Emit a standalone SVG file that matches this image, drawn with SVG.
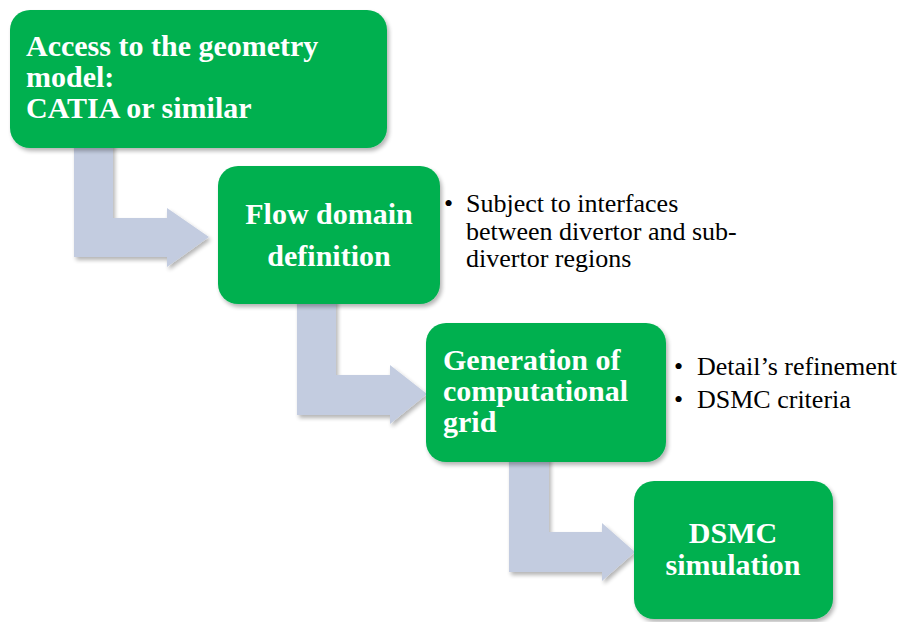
<svg xmlns="http://www.w3.org/2000/svg" width="903" height="622" viewBox="0 0 903 622">
<defs>
<filter id="sh" x="-10%" y="-10%" width="130%" height="130%">
<feGaussianBlur in="SourceAlpha" stdDeviation="2"/>
<feOffset dx="2" dy="3" result="b"/>
<feComponentTransfer><feFuncA type="linear" slope="0.3"/></feComponentTransfer>
<feMerge><feMergeNode/><feMergeNode in="SourceGraphic"/></feMerge>
</filter>
</defs>
<style>
.box{fill:#00B050;filter:url(#sh)}
.arr{fill:#C3CCE0;filter:url(#sh)}
.bt{font-family:"Liberation Serif","Times New Roman",serif;font-weight:bold;font-size:30px;fill:#FFFFFF}
.c{text-anchor:middle}
.nt{font-family:"Liberation Serif","Times New Roman",serif;font-size:26px;fill:#000000}
</style>
<rect width="903" height="622" fill="#FFFFFF"/>
<g id="connectors">
<path class="arr" d="M74,140 L113,140 L113,218 L167,218 L167,208 L209,237 L167,267 L167,257 L74,257 Z"/>
<path class="arr" d="M297,298 L336,298 L336,375 L390,375 L390,365 L427,394 L390,424 L390,415 L297,415 Z"/>
<path class="arr" d="M509,455 L549,455 L549,532 L602,532 L602,523 L635,552 L602,581 L602,572 L509,572 Z"/>
</g>
<g id="node1">
<rect class="box" x="10" y="10" width="377" height="138" rx="20"/>
<text class="bt" x="26" y="56">Access to the geometry</text>
<text class="bt" x="26" y="87">model:</text>
<text class="bt" x="26" y="118">CATIA or similar</text>
</g>
<g id="node2">
<rect class="box" x="218" y="166" width="222" height="138" rx="20"/>
<text class="bt c" x="329" y="224">Flow domain</text>
<text class="bt c" x="329" y="266">definition</text>
</g>
<g id="node3">
<rect class="box" x="426" y="323" width="240" height="139" rx="20"/>
<text class="bt" x="443" y="370">Generation of</text>
<text class="bt" x="443" y="401">computational</text>
<text class="bt" x="443" y="432">grid</text>
</g>
<g id="node4">
<rect class="box" x="634" y="481" width="199" height="138" rx="20"/>
<text class="bt c" x="733" y="543">DSMC</text>
<text class="bt c" x="733" y="575">simulation</text>
</g>
<g id="note1">
<text class="nt" x="444" y="212">•</text>
<text class="nt" x="466" y="212">Subject to interfaces</text>
<text class="nt" x="466" y="239.5">between divertor and sub-</text>
<text class="nt" x="466" y="267">divertor regions</text>
</g>
<g id="note2">
<text class="nt" x="674" y="375">•</text>
<text class="nt" x="697" y="375">Detail’s refinement</text>
<text class="nt" x="674" y="408">•</text>
<text class="nt" x="697" y="408">DSMC criteria</text>
</g>
</svg>
